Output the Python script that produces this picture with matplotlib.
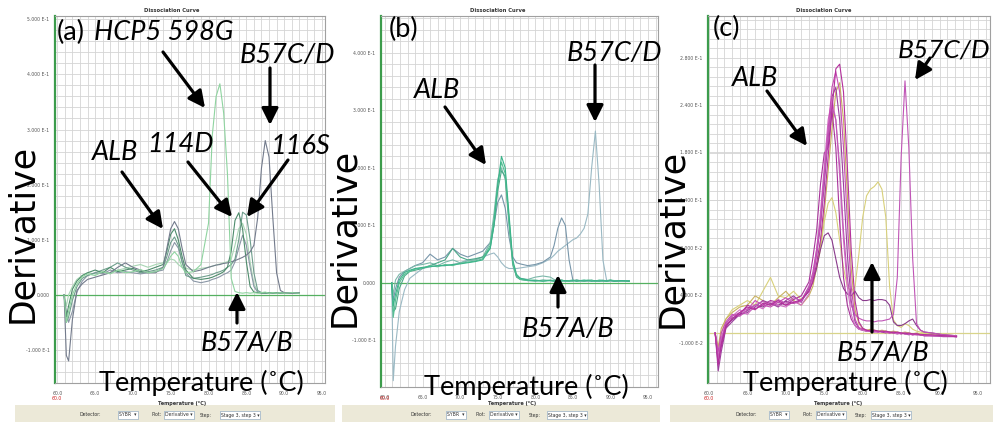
import numpy as np
import matplotlib.pyplot as plt
from matplotlib.patches import FancyArrowPatch, Rectangle
from matplotlib.ticker import MultipleLocator

# ---------------- data ----------------
# panel (a)
T_a = [60.9, 61.2, 61.5, 62.0, 62.6, 63.3,
       64, 65, 66, 67, 68, 69, 70, 71, 72, 73,
       74, 74.5, 75, 75.5, 76, 76.5, 77,
       78, 79, 80,
       80.5, 81, 81.5, 82, 82.5, 83, 83.5, 84, 84.5, 85, 85.5, 86, 86.5, 87, 87.5, 88, 88.5, 89, 89.5,
       90, 91, 92]
a_hcp5 = [0.0, -0.05, -0.03, 0.0, 0.02, 0.033,
          0.038, 0.035, 0.042, 0.038, 0.045, 0.04, 0.042, 0.046, 0.04, 0.042,
          0.048, 0.058, 0.07, 0.078, 0.07, 0.05, 0.04,
          0.042, 0.055, 0.13,
          0.29, 0.36, 0.383, 0.33, 0.22, 0.03, 0.006, 0.004, 0.003, 0.004, 0.003, 0.004, 0.003, 0.004, 0.005, 0.003, 0.004, 0.003, 0.004,
          0.003, 0.004, 0.003]
a_b57cd = [0.0, -0.11, -0.12, -0.045, 0.008, 0.02,
           0.028, 0.032, 0.036, 0.04, 0.05, 0.058, 0.05, 0.045, 0.04, 0.04,
           0.05, 0.085, 0.12, 0.133, 0.12, 0.085, 0.055,
           0.042, 0.045, 0.05,
           0.052, 0.054, 0.055, 0.057, 0.058, 0.06, 0.062, 0.065, 0.068, 0.072, 0.078, 0.09, 0.14, 0.23, 0.28, 0.25, 0.14, 0.04, 0.008,
           0.004, 0.003, 0.004]
a_114d = [0.0, -0.04, -0.02, 0.01, 0.025, 0.035,
          0.04, 0.045, 0.04, 0.05, 0.042, 0.045, 0.048, 0.042, 0.045, 0.05,
          0.055, 0.08, 0.11, 0.12, 0.1, 0.07, 0.045,
          0.03, 0.028, 0.03,
          0.032, 0.035, 0.038, 0.042, 0.05, 0.08, 0.135, 0.149, 0.12, 0.06, 0.015, 0.005, 0.004, 0.003, 0.004, 0.003, 0.004, 0.003, 0.004,
          0.003, 0.004, 0.003]
a_116s = [0.0, -0.05, -0.04, -0.01, 0.015, 0.03,
          0.035, 0.04, 0.045, 0.05, 0.058, 0.05, 0.045, 0.04, 0.042, 0.045,
          0.05, 0.07, 0.095, 0.105, 0.09, 0.06, 0.035,
          0.03, 0.032, 0.035,
          0.037, 0.04, 0.042, 0.045, 0.05, 0.055, 0.065, 0.1, 0.15, 0.145, 0.1, 0.04, 0.008, 0.004, 0.003, 0.004, 0.003, 0.004, 0.003,
          0.004, 0.003, 0.004]
a_s5 = [0.0, -0.03, -0.05, -0.03, 0.005, 0.025,
        0.035, 0.04, 0.038, 0.045, 0.04, 0.042, 0.04, 0.038, 0.04, 0.042,
        0.045, 0.06, 0.08, 0.095, 0.085, 0.06, 0.04,
        0.025, 0.022, 0.025,
        0.028, 0.03, 0.033, 0.037, 0.04, 0.045, 0.06, 0.085, 0.108, 0.09, 0.05, 0.015, 0.005, 0.004, 0.003, 0.004, 0.003, 0.004, 0.003,
        0.004, 0.003, 0.004]
a_s6 = [0.0, -0.02, 0.0, 0.015, 0.028, 0.035,
        0.04, 0.038, 0.042, 0.04, 0.045, 0.048, 0.052, 0.055, 0.05, 0.055,
        0.058, 0.06, 0.065, 0.063, 0.055, 0.05, 0.048,
        0.045, 0.048, 0.05,
        0.052, 0.054, 0.056, 0.058, 0.06, 0.065, 0.09, 0.12, 0.13, 0.11, 0.06, 0.02, 0.006, 0.004, 0.003, 0.004, 0.003, 0.004, 0.003,
        0.004, 0.003, 0.004]
curves_a = [a_s6, a_s5, a_116s, a_114d, a_b57cd, a_hcp5]
colors_a = ['#a9d6b4', '#8b97a6', '#6e9e8c', '#4e8c6c', '#737b8c', '#8fd4a0']
yticks_a = [0.5, 0.4, 0.3, 0.2, 0.1, 0.0, -0.1]
ylabels_a = ['5.000 E-1', '4.000 E-1', '3.000 E-1', '2.000 E-1', '1.000 E-1', '0.000', '-1.000 E-1']

# panel (b)
T_b = [60.9, 61.1, 61.4, 61.9, 62.6, 63.3,
       64, 65, 66, 67, 68, 69, 70, 71, 72, 73,
       74, 74.5, 75, 75.5, 76, 76.5, 77,
       77.5, 78, 79,
       80, 81, 82, 82.5, 83, 83.5, 84, 84.5, 85, 85.5, 86, 86.5, 87, 87.5, 88, 88.5, 89, 89.5, 90,
       90.5, 91.5, 92.5]
b_1 = [0.0, -0.04, -0.02, 0.005, 0.018, 0.022,
       0.025, 0.027, 0.028, 0.03, 0.03, 0.032, 0.033, 0.035, 0.037, 0.04,
       0.06, 0.1, 0.17, 0.22, 0.2, 0.12, 0.04,
       0.015, 0.008, 0.005,
       0.004, 0.003, 0.004, 0.003, 0.005, 0.003, 0.004, 0.003, 0.004, 0.003, 0.004, 0.005, 0.004, 0.003, 0.004, 0.003, 0.004, 0.003, 0.004,
       0.003, 0.004, 0.003]
b_2 = [0.0, -0.06, -0.03, 0.0, 0.015, 0.02,
       0.024, 0.026, 0.03, 0.028, 0.032, 0.03, 0.034, 0.036, 0.038, 0.042,
       0.065, 0.11, 0.17, 0.21, 0.19, 0.11, 0.035,
       0.012, 0.006, 0.004,
       0.005, 0.003, 0.005, 0.004, 0.003, 0.005, 0.003, 0.004, 0.005, 0.003, 0.004, 0.003, 0.005, 0.004, 0.003, 0.005, 0.004, 0.003, 0.005,
       0.004, 0.003, 0.004]
b_3 = [0.0, -0.02, 0.005, 0.015, 0.02, 0.025,
       0.03, 0.032, 0.035, 0.03, 0.036, 0.04, 0.035, 0.038, 0.04, 0.045,
       0.07, 0.12, 0.18, 0.2, 0.18, 0.1, 0.03,
       0.012, 0.008, 0.006,
       0.01, 0.012, 0.01, 0.006, 0.004, 0.003, 0.004, 0.003, 0.004, 0.005, 0.003, 0.004, 0.003, 0.004, 0.003, 0.004, 0.005, 0.003, 0.004,
       0.003, 0.004, 0.003]
b_4 = [0.0, -0.03, -0.01, 0.01, 0.02, 0.025,
       0.03, 0.035, 0.05, 0.04, 0.045, 0.06, 0.05, 0.045, 0.05, 0.055,
       0.07, 0.1, 0.14, 0.153, 0.13, 0.08, 0.045,
       0.035, 0.033, 0.03,
       0.032, 0.036, 0.045, 0.065, 0.095, 0.113, 0.1, 0.04, 0.005, 0.003, 0.004, 0.003, 0.004, 0.003, 0.004, 0.003, 0.004, 0.003, 0.004,
       0.003, 0.004, 0.003]
b_5 = [0.0, -0.17, -0.11, -0.05, -0.012, 0.008,
       0.015, 0.025, 0.028, 0.03, 0.03, 0.032, 0.035, 0.04, 0.04, 0.045,
       0.05, 0.052, 0.045, 0.035, 0.028, 0.025, 0.025,
       0.025, 0.026, 0.028,
       0.03, 0.035, 0.042, 0.048, 0.055, 0.06, 0.065, 0.07, 0.075, 0.078, 0.085, 0.095, 0.12, 0.2, 0.264, 0.17, 0.04, 0.004, 0.003,
       0.004, 0.003, 0.004]
b_6 = [0.0, -0.05, -0.045, -0.01, 0.012, 0.02,
       0.022, 0.025, 0.03, 0.035, 0.04, 0.06, 0.045, 0.04, 0.042, 0.045,
       0.06, 0.1, 0.16, 0.195, 0.185, 0.11, 0.035,
       0.01, 0.006, 0.004,
       0.003, 0.005, 0.004, 0.003, 0.004, 0.005, 0.003, 0.004, 0.003, 0.005, 0.004, 0.003, 0.004, 0.005, 0.003, 0.004, 0.003, 0.004, 0.005,
       0.003, 0.004, 0.003]
curves_b = [b_5, b_4, b_3, b_6, b_2, b_1]
colors_b = ['#9ab9c4', '#7896aa', '#7cb8aa', '#4aa888', '#58bf94', '#3bb48a']
yticks_b = [0.4, 0.3, 0.2, 0.1, 0.0, -0.1]
ylabels_b = ['4.000 E-1', '3.000 E-1', '2.000 E-1', '1.000 E-1', '0.000', '-1.000 E-1']

# panel (c)
T_c = [60.8, 61.2, 61.6, 62.2, 63, 64,
       65, 66, 67, 68, 69, 70, 71, 72, 73, 73.5,
       74, 74.5, 75, 75.5, 76, 76.5, 77,
       77.5, 78, 78.5,
       79, 79.5, 80, 80.5, 81, 81.5, 82, 82.5, 83, 83.5, 84, 84.5, 85, 85.5, 86, 86.5, 87, 87.5, 88,
       89, 90.5, 92.2]
c_1 = [0.0, -0.035, -0.012, 0.008, 0.015, 0.022,
       0.028, 0.025, 0.032, 0.03, 0.035, 0.03, 0.033, 0.036, 0.045, 0.055,
       0.075, 0.1, 0.14, 0.19, 0.24, 0.285, 0.29,
       0.26, 0.18, 0.09,
       0.035, 0.012, 0.005, 0.003, 0.002, 0.003, 0.002, 0.001, 0.002, 0.001, 0.0, 0.001, 0.0, -0.001, 0.0, -0.001, -0.001, -0.002, -0.002,
       -0.002, -0.003, -0.004]
c_2 = [0.0, -0.02, 0.0, 0.012, 0.02, 0.018,
       0.025, 0.035, 0.03, 0.028, 0.033, 0.038, 0.032, 0.034, 0.05, 0.065,
       0.09, 0.12, 0.17, 0.22, 0.265, 0.282, 0.26,
       0.2, 0.12, 0.05,
       0.015, 0.006, 0.004, 0.003, 0.002, 0.002, 0.001, 0.002, 0.001, 0.0, 0.001, 0.0, -0.001, 0.0, -0.001, -0.002, -0.001, -0.002, -0.003,
       -0.003, -0.003, -0.004]
c_3 = [0.0, -0.041, -0.02, 0.005, 0.012, 0.02,
       0.022, 0.028, 0.035, 0.032, 0.028, 0.035, 0.04, 0.033, 0.048, 0.06,
       0.085, 0.115, 0.16, 0.21, 0.255, 0.265, 0.23,
       0.16, 0.085, 0.035,
       0.012, 0.005, 0.003, 0.002, 0.002, 0.001, 0.002, 0.001, 0.0, 0.001, 0.0, -0.001, 0.0, -0.001, -0.002, -0.001, -0.002, -0.002, -0.003,
       -0.003, -0.004, -0.004]
c_4 = [0.0, -0.025, -0.005, 0.01, 0.018, 0.025,
       0.02, 0.03, 0.026, 0.034, 0.03, 0.028, 0.034, 0.03, 0.042, 0.06,
       0.09, 0.13, 0.18, 0.23, 0.252, 0.23, 0.17,
       0.1, 0.05, 0.02,
       0.008, 0.004, 0.003, 0.002, 0.002, 0.001, 0.001, 0.002, 0.001, 0.0, 0.0, -0.001, 0.0, -0.001, -0.001, -0.002, -0.002, -0.002, -0.003,
       -0.003, -0.003, -0.004]
c_5 = [0.0, -0.03, -0.015, 0.006, 0.016, 0.02,
       0.03, 0.026, 0.03, 0.035, 0.033, 0.03, 0.036, 0.04, 0.055, 0.08,
       0.11, 0.16, 0.194, 0.2, 0.24, 0.2, 0.12,
       0.06, 0.03, 0.015,
       0.008, 0.004, 0.003, 0.002, 0.003, 0.002, 0.001, 0.002, 0.001, 0.0, 0.001, 0.0, -0.001, 0.0, -0.001, -0.002, -0.001, -0.002, -0.002,
       -0.003, -0.003, -0.004]
c_6 = [0.0, -0.03, -0.01, 0.008, 0.014, 0.02,
       0.024, 0.03, 0.028, 0.032, 0.03, 0.034, 0.032, 0.035, 0.045, 0.055,
       0.07, 0.09, 0.105, 0.108, 0.1, 0.08, 0.06,
       0.048, 0.042, 0.04,
       0.045, 0.038, 0.035, 0.035, 0.036, 0.035, 0.036, 0.036, 0.035, 0.03, 0.012, 0.008, 0.008, 0.01, 0.013, 0.015, 0.008, 0.003, 0.001,
       0.0, -0.002, -0.003]
c_7 = [0.0, -0.02, 0.0, 0.015, 0.025, 0.03,
       0.035, 0.03, 0.045, 0.06, 0.04, 0.038, 0.045, 0.036, 0.045, 0.055,
       0.07, 0.09, 0.12, 0.14, 0.146, 0.13, 0.1,
       0.07, 0.05, 0.045,
       0.05, 0.085, 0.125, 0.148, 0.155, 0.158, 0.163, 0.155, 0.125, 0.05, 0.014, 0.008, 0.006, 0.01, 0.008, 0.004, 0.002, 0.001, 0.0,
       -0.001, -0.002, -0.003]
c_8 = [0.0, -0.015, 0.005, 0.015, 0.022, 0.028,
       0.03, 0.04, 0.035, 0.03, 0.038, 0.045, 0.035, 0.03, 0.04, 0.05,
       0.07, 0.095, 0.13, 0.175, 0.22, 0.26, 0.27,
       0.23, 0.15, 0.07,
       0.025, 0.01, 0.005, 0.003, 0.004, 0.003, 0.002, 0.003, 0.002, 0.001, 0.002, 0.001, 0.0, 0.001, 0.0, -0.001, 0.0, -0.001, -0.002,
       -0.002, -0.003, -0.003]
c_9 = [0.0, -0.028, -0.008, 0.01, 0.018, 0.022,
       0.026, 0.03, 0.034, 0.03, 0.036, 0.032, 0.038, 0.035, 0.05, 0.06,
       0.085, 0.12, 0.17, 0.215, 0.245, 0.23, 0.18,
       0.11, 0.06, 0.03,
       0.02, 0.016, 0.014, 0.013, 0.013, 0.012, 0.013, 0.013, 0.014, 0.015, 0.02, 0.06, 0.19, 0.272, 0.2, 0.08, 0.01, 0.003, 0.001,
       0.0, -0.002, -0.003]
curves_c = [c_7, c_8, c_6, c_3, c_5, c_4, c_2, c_9, c_1]
colors_c = ['#d8d07a', '#c8b060', '#8a3a8c', '#9c3f9e', '#a8329a', '#d070c4', '#c64cb4', '#c055b6', '#b4309c']
yticks_c = [0.297, 0.246, 0.195, 0.143, 0.092, 0.0405, -0.0108]
ylabels_c = ['2.800 E-1', '2.400 E-1', '1.800 E-1', '1.400 E-1', '8.000 E-2', '4.000 E-2', '-1.000 E-2']

xticks = [60, 65, 70, 75, 80, 85, 90, 95]
xlabels = ['60.0', '65.0', '70.0', '75.0', '80.0', '85.0', '90.0', '95.0']

# ---------------- figure ----------------
W, H = 993, 422
BIG = ['Lato', 'DejaVu Sans']


def fx(x):
    return x / W


def fy(y):
    return 1 - y / H


fig = plt.figure(figsize=(W / 100, H / 100), dpi=100)
fig.patch.set_facecolor('white')


def make_axes(x0, x1, y0, y1):
    return fig.add_axes([fx(x0), fy(y1), (x1 - x0) / W, (y1 - y0) / H])


def panel(ax, T, curves, colors, xlim, ylim, yticks, ylabels, ystep, zero_color):
    for d, c in zip(curves, colors):
        ax.plot(T, d, color=c, lw=0.8, zorder=3)
    ax.axhline(0, color=zero_color, lw=0.9, zorder=2)
    ax.set_xlim(xlim)
    ax.set_ylim(ylim)
    ax.set_xticks(xticks)
    ax.set_xticklabels(xlabels)
    ax.xaxis.set_minor_locator(MultipleLocator(1))
    ax.set_yticks(yticks)
    ax.set_yticklabels(ylabels)
    ax.set_yticks(np.arange(min(yticks) - 3 * ystep, ylim[1], ystep), minor=True)
    ax.grid(which='both', color='#d4d4d4', lw=0.6)
    ax.set_axisbelow(True)
    ax.tick_params(which='both', length=0, labelsize=3.3, labelcolor='#555555')
    ax.tick_params(axis='y', pad=4)
    ax.tick_params(axis='x', pad=6)
    for s in ['top', 'right', 'bottom']:
        ax.spines[s].set_color('#a0a0a0')
        ax.spines[s].set_linewidth(0.8)
    ax.spines['left'].set_color('#3c9c4c')
    ax.spines['left'].set_linewidth(1.6)


ax_a = make_axes(55, 325, 16, 383)
panel(ax_a, T_a, curves_a, colors_a, (59.7, 95.4), (-0.130, 0.506),
      yticks_a, ylabels_a, 0.02, '#55b060')
ax_b = make_axes(381, 658, 16, 387)
panel(ax_b, T_b, curves_b, colors_b, (59.47, 96.33), (-0.181, 0.464),
      yticks_b, ylabels_b, 0.02, '#55b060')
ax_c = make_axes(708, 990, 16, 383)
panel(ax_c, T_c, curves_c, colors_c, (59.87, 96.56), (-0.054, 0.342),
      yticks_c, ylabels_c, 0.01026, '#d8d48a')

# window chrome of each screenshot
for tx, x60, xt in [(172, 57, 182), (498, 385, 512), (824, 709, 838)]:
    fig.text(fx(tx), fy(11), 'Dissociation Curve', fontsize=3.8, weight='bold',
             ha='center', va='center', color='#333333')
    fig.text(fx(x60), fy(398), '60.0', fontsize=3.3, color='#cc2222', ha='center', va='center')
    fig.text(fx(xt), fy(403), 'Temperature (°C)', fontsize=3.6, weight='bold',
             ha='center', va='center', color='#333333')

bands = [(15, 335, [(90, 'Detector:'), (128, 'SYBR  ▾'), (157, 'Plot:'), (179, 'Derivative ▾'),
                    (206, 'Step:'), (240, 'Stage 3, step 3 ▾')]),
         (342, 660, [(421, 'Detector:'), (456, 'SYBR  ▾'), (481, 'Plot:'), (504, 'Derivative ▾'),
                     (535, 'Step:'), (567, 'Stage 3, step 3 ▾')]),
         (670, 993, [(746, 'Detector:'), (779, 'SYBR  ▾'), (808, 'Plot:'), (831, 'Derivative ▾'),
                     (861, 'Step:'), (891, 'Stage 3, step 3 ▾')])]
for x0, x1, items in bands:
    fig.add_artist(Rectangle((fx(x0), 0), (x1 - x0) / W, 17 / H, transform=fig.transFigure,
                             facecolor='#ece9d8', edgecolor='none', zorder=1))
    for i, (x, s) in enumerate(items):
        box = dict(boxstyle='square,pad=0.25', fc='white', ec='#7f9db9', lw=0.4) if i % 2 else None
        fig.text(fx(x), fy(415), s, fontsize=3.3, ha='center', va='center', color='#333333',
                 bbox=box, zorder=2)


def label(x, y, s, italic=True, size=19.5):
    fig.text(fx(x), fy(y), s, ha='center', va='center', fontsize=size,
             style='italic' if italic else 'normal', family=BIG, zorder=5)


def arrow(x0, y0, x1, y1):
    fig.add_artist(FancyArrowPatch((fx(x0), fy(y0)), (fx(x1), fy(y1)), transform=fig.transFigure,
                                   arrowstyle='-|>,head_length=1.0,head_width=0.5', mutation_scale=10,
                                   lw=2.3, color='black', shrinkA=0, shrinkB=0, zorder=6))


# big axis words overlaid on each screenshot
for xd, yd, xt, yt in [(22, 233, 201, 383), (344, 237, 526, 387), (672, 238, 845, 383)]:
    fig.text(fx(xd), fy(yd), 'Derivative', rotation=90, ha='center', va='center',
             fontsize=25, family=['DejaVu Sans'], zorder=5)
    label(xt, yt, 'Temperature (˚C)', italic=False)

# panel (a)
label(71, 32, '(a)', italic=False)
label(164, 33, 'HCP5 598G')
label(287, 55, 'B57C/D')
label(115, 153, 'ALB')
label(180, 145, '114D')
label(300, 146, '116S')
label(247, 344, 'B57A/B')
arrow(163, 52, 205, 108)
arrow(270, 68, 270, 125)
arrow(122, 172, 163, 229)
arrow(188, 162, 232, 217)
arrow(288, 160, 247, 217)
arrow(237, 323, 237, 292)

# panel (b)
label(404, 29, '(b)', italic=False)
label(614, 53, 'B57C/D')
label(437, 90, 'ALB')
label(568, 330, 'B57A/B')
arrow(595, 65, 595, 122)
arrow(445, 107, 486, 165)
arrow(558, 307, 558, 275)

# panel (c)
label(727, 28, '(c)', italic=False)
label(944, 50, 'B57C/D', size=19)
label(755, 78, 'ALB')
label(883, 353, 'B57A/B')
arrow(930, 58, 915, 80)
arrow(767, 91, 807, 146)
arrow(872, 332, 872, 262)

fig.savefig('out.png', dpi=100)
